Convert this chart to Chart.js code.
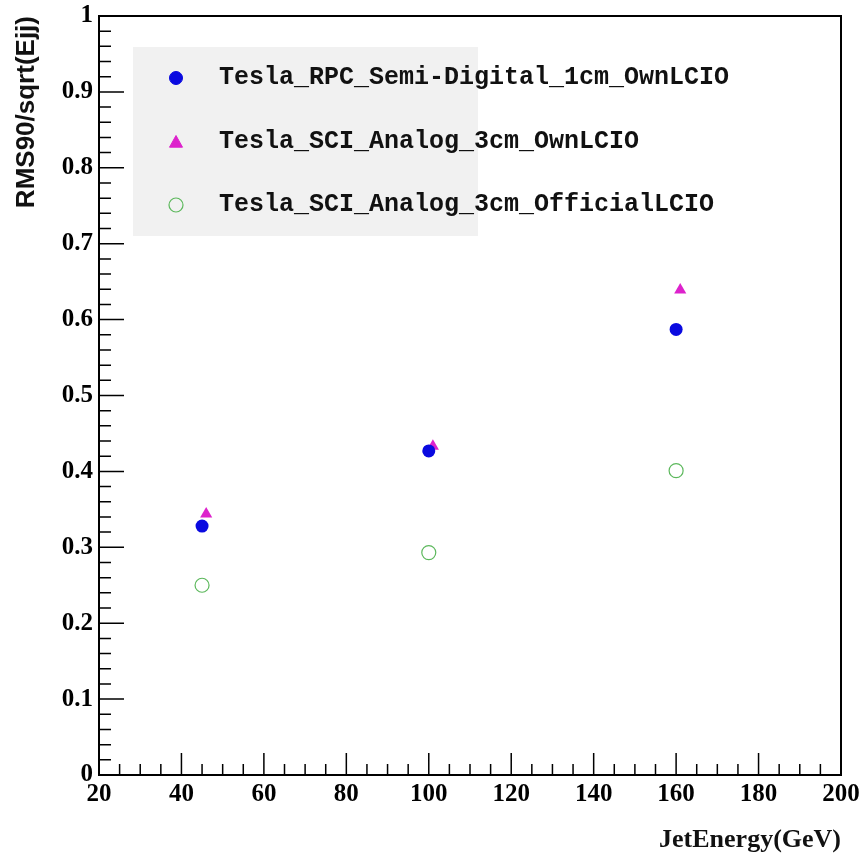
<!DOCTYPE html>
<html lang="en">
<head>
    <meta charset="UTF-8">
    <title>RMS90/sqrt(Ejj) vs JetEnergy</title>
    <script src="https://cdn.jsdelivr.net/npm/chart.js"></script>
    <style>
        body {
            margin: 0;
            background: white;
        }
        .wrap {
            width: 861px;
            height: 856px;
            position: relative;
        }
    </style>
</head>
<body>
    <div class="wrap">
        <canvas id="resChart"></canvas>
    </div>

    <script>
        // data
        const seriesNames = [
            "Tesla_RPC_Semi-Digital_1cm_OwnLCIO",
            "Tesla_SCI_Analog_3cm_OwnLCIO",
            "Tesla_SCI_Analog_3cm_OfficialLCIO"
        ];
        const energyRpc = [45, 100, 160];
        const rpcSemiDigital = [0.328, 0.427, 0.587];
        const energySciOwn = [46, 101, 161];
        const sciAnalogOwn = [0.344, 0.433, 0.639];
        const energySciOfficial = [45, 100, 160];
        const sciAnalogOfficial = [0.250, 0.293, 0.401];

        const xTicks = [20, 40, 60, 80, 100, 120, 140, 160, 180, 200];
        const yTicks = [0, 0.1, 0.2, 0.3, 0.4, 0.5, 0.6, 0.7, 0.8, 0.9, 1];

        function toPoints(xs, ys) {
            return xs.map((x, i) => ({ x: x, y: ys[i] }));
        }

        // ROOT-like frame with inner ticks
        const frameTicks = {
            id: "frameTicks",
            afterDatasetsDraw(chart) {
                const ctx = chart.ctx;
                const a = chart.chartArea;
                const xs = chart.scales.x, ys = chart.scales.y;
                ctx.save();
                ctx.strokeStyle = "#000";
                ctx.lineWidth = 1.5;
                ctx.beginPath();
                for (let i = 0; i <= 50; i++) {
                    const py = ys.getPixelForValue(i * 0.02);
                    const len = i % 5 === 0 ? 25 : 12;
                    ctx.moveTo(a.left, py);
                    ctx.lineTo(a.left + len, py);
                }
                for (let i = 0; i <= 36; i++) {
                    const px = xs.getPixelForValue(20 + i * 5);
                    const len = i % 4 === 0 ? 22 : 11;
                    ctx.moveTo(px, a.bottom);
                    ctx.lineTo(px, a.bottom - len);
                }
                ctx.stroke();
                ctx.lineWidth = 2;
                ctx.strokeRect(a.left, a.top, a.right - a.left, a.bottom - a.top);
                ctx.restore();
            }
        };

        // legend drawn inside the plot, like the ROOT TLegend
        const boxLegend = {
            id: "boxLegend",
            afterDraw(chart) {
                const ctx = chart.ctx;
                ctx.save();
                ctx.fillStyle = "#f1f1f1";
                ctx.fillRect(133, 47, 345, 189);
                const rows = [78, 142, 205];
                chart.data.datasets.forEach((ds, i) => {
                    const y = rows[i];
                    ctx.beginPath();
                    if (ds.pointStyle === "triangle") {
                        const r = 6.5;
                        ctx.moveTo(176, y - r);
                        ctx.lineTo(176 + r, y + r * 0.8);
                        ctx.lineTo(176 - r, y + r * 0.8);
                        ctx.closePath();
                    } else {
                        ctx.arc(176, y, ds.pointRadius, 0, Math.PI * 2);
                    }
                    ctx.fillStyle = ds.pointBackgroundColor;
                    ctx.fill();
                    ctx.lineWidth = ds.pointBorderWidth;
                    ctx.strokeStyle = ds.pointBorderColor;
                    ctx.stroke();
                    ctx.fillStyle = "#111";
                    ctx.font = "bold 25px 'Liberation Mono', 'DejaVu Sans Mono', monospace";
                    ctx.textBaseline = "middle";
                    ctx.fillText(ds.label, 219, y);
                });
                ctx.restore();
            }
        };

        const ctx = document.getElementById("resChart").getContext("2d");
        const resChart = new Chart(ctx, {
            type: "scatter",
            data: {
                datasets: [
                    {
                        label: seriesNames[0],
                        data: toPoints(energyRpc, rpcSemiDigital),
                        pointStyle: "circle",
                        pointRadius: 6.5,
                        pointBackgroundColor: "#0a0ae0",
                        pointBorderColor: "#0a0ae0",
                        pointBorderWidth: 0
                    },
                    {
                        label: seriesNames[1],
                        data: toPoints(energySciOwn, sciAnalogOwn),
                        pointStyle: "triangle",
                        pointRadius: 7,
                        pointBackgroundColor: "#dd22cc",
                        pointBorderColor: "#dd22cc",
                        pointBorderWidth: 0
                    },
                    {
                        label: seriesNames[2],
                        data: toPoints(energySciOfficial, sciAnalogOfficial),
                        pointStyle: "circle",
                        pointRadius: 7,
                        pointBackgroundColor: "rgba(0,0,0,0)",
                        pointBorderColor: "#5cb85c",
                        pointBorderWidth: 1.2
                    }
                ]
            },
            options: {
                responsive: true,
                maintainAspectRatio: false,
                animation: false,
                layout: { padding: { top: 16, right: 20, left: 0, bottom: 0 } },
                plugins: {
                    legend: { display: false },
                    tooltip: { enabled: false }
                },
                scales: {
                    x: {
                        type: "linear",
                        min: 20,
                        max: 200,
                        afterBuildTicks: s => { s.ticks = xTicks.map(v => ({ value: v })); },
                        afterFit: s => { s.height = 81; s.paddingLeft = 0; s.paddingRight = 0; },
                        grid: { display: false, drawTicks: false },
                        border: { display: false },
                        ticks: {
                            color: "#000",
                            padding: 7,
                            maxRotation: 0,
                            font: { family: "'Liberation Serif', serif", weight: "bold", size: 25, lineHeight: 1 }
                        },
                        title: {
                            display: true,
                            text: "JetEnergy(GeV)",
                            align: "end",
                            color: "#111",
                            padding: { top: 0, bottom: 0 },
                            font: { family: "'Liberation Serif', serif", weight: "bold", size: 26 }
                        }
                    },
                    y: {
                        type: "linear",
                        min: 0,
                        max: 1,
                        afterBuildTicks: s => { s.ticks = yTicks.map(v => ({ value: v })); },
                        afterFit: s => { s.width = 99; s.paddingTop = 0; s.paddingBottom = 0; },
                        grid: { display: false, drawTicks: false },
                        border: { display: false },
                        ticks: {
                            color: "#000",
                            padding: 6,
                            callback: v => String(Number(v.toFixed(2))),
                            font: { family: "'Liberation Serif', serif", weight: "bold", size: 25, lineHeight: 1 }
                        },
                        title: {
                            display: true,
                            text: "RMS90/sqrt(Ejj)",
                            align: "end",
                            color: "#111",
                            padding: { top: 11, bottom: 0 },
                            font: { family: "'Liberation Sans', Arial, sans-serif", weight: "bold", size: 26 }
                        }
                    }
                }
            },
            plugins: [frameTicks, boxLegend]
        });
    </script>
</body>
</html>
